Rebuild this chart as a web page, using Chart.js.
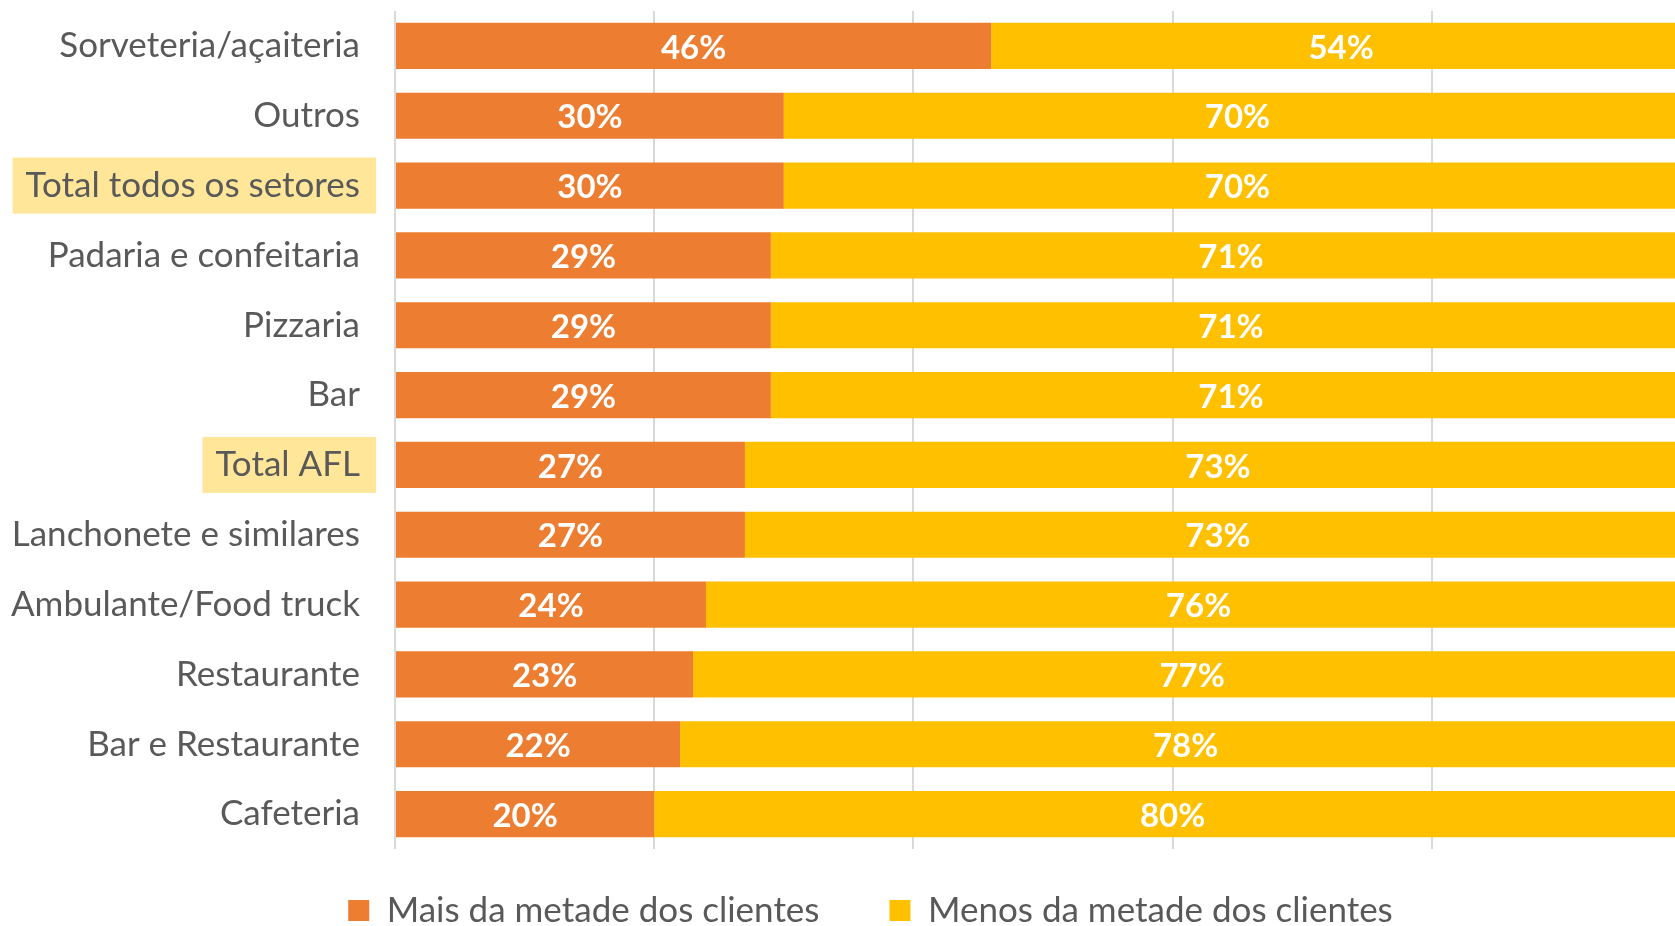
<!DOCTYPE html>
<html lang="pt-BR">
<head>
<meta charset="utf-8">
<title>Clientes por setor</title>
<script src="https://cdn.jsdelivr.net/npm/chart.js@4.4.1/dist/chart.umd.min.js"></script>
<style>
    html, body { margin: 0; padding: 0; background: #fff; overflow: hidden; }
    #wrap { position: absolute; left: 0; top: 0; width: 1691px; height: 964px; }
</style>
</head>
<body>
<div id="wrap"><canvas id="setoresChart" width="1691" height="964"></canvas></div>
<script>
// share of businesses by sector, in percent
var setores = [
    'Sorveteria/açaiteria',
    'Outros',
    'Total todos os setores',
    'Padaria e confeitaria',
    'Pizzaria',
    'Bar',
    'Total AFL',
    'Lanchonete e similares',
    'Ambulante/Food truck',
    'Restaurante',
    'Bar e Restaurante',
    'Cafeteria'
];
var maisDaMetade = [46, 30, 30, 29, 29, 29, 27, 27, 24, 23, 22, 20];
var menosDaMetade = [54, 70, 70, 71, 71, 71, 73, 73, 76, 77, 78, 80];
var destaques = ['Total todos os setores', 'Total AFL'];

var cores = {
    mais: '#ED7D31',
    menos: '#FFC000',
    texto: '#595959',
    grade: '#D9D9D9',
    destaque: '#FFE699'
};

Chart.defaults.font.family = 'Lato, "Open Sans", sans-serif';

// white percentage in the middle of every segment
var valueLabels = {
    id: 'valueLabels',
    afterDatasetsDraw: function (chart) {
        var ctx = chart.ctx;
        ctx.save();
        ctx.font = 'bold 33px Lato, "Open Sans", sans-serif';
        ctx.fillStyle = '#ffffff';
        ctx.textAlign = 'center';
        ctx.textBaseline = 'middle';
        chart.data.datasets.forEach(function (ds, i) {
            chart.getDatasetMeta(i).data.forEach(function (bar, j) {
                ctx.fillText(ds.data[j] + '%', (bar.x + bar.base) / 2, bar.y + 2);
            });
        });
        ctx.restore();
    }
};

// pull the legend up and a little to the right, padding is only wanted between the items
var legendOffset = {
    id: 'legendOffset',
    afterLayout: function (chart) {
        chart.legend.top -= 26;
        chart.legend.bottom -= 26;
        chart.legend.left += 50;
    }
};

function isDestaque(ctx) {
    return destaques.indexOf(setores[ctx.index]) !== -1;
}

new Chart('setoresChart', {
    type: 'bar',
    data: {
        labels: setores,
        datasets: [
            {
                label: 'Mais da metade dos clientes',
                data: maisDaMetade,
                backgroundColor: cores.mais,
                borderWidth: 0
            },
            {
                label: 'Menos da metade dos clientes',
                data: menosDaMetade,
                backgroundColor: cores.menos,
                borderWidth: 0
            }
        ]
    },
    options: {
        indexAxis: 'y',
        responsive: false,
        animation: false,
        categoryPercentage: 1,
        barPercentage: 0.66,
        layout: {
            padding: { top: 11, left: 0, right: 0, bottom: 0 }
        },
        scales: {
            x: {
                stacked: true,
                min: 0,
                max: 100,
                ticks: { display: false, stepSize: 20 },
                grid: { color: cores.grade, lineWidth: 2, drawTicks: false },
                border: { display: false }
            },
            y: {
                stacked: true,
                grid: { display: false, drawTicks: false },
                border: { display: false },
                ticks: {
                    color: cores.texto,
                    font: { size: 35 },
                    padding: 35,
                    showLabelBackdrop: isDestaque,
                    backdropColor: cores.destaque,
                    backdropPadding: { top: 7, bottom: 7, left: 13, right: 16 }
                },
                afterFit: function (scale) {
                    scale.width = 395;
                    scale.paddingTop = 0;
                    scale.paddingBottom = 0;
                }
            }
        },
        plugins: {
            legend: {
                position: 'bottom',
                labels: {
                    color: cores.texto,
                    font: { size: 35 },
                    boxWidth: 21,
                    boxHeight: 21,
                    padding: 70
                }
            },
            tooltip: { enabled: false }
        }
    },
    plugins: [valueLabels, legendOffset]
});
</script>
</body>
</html>
